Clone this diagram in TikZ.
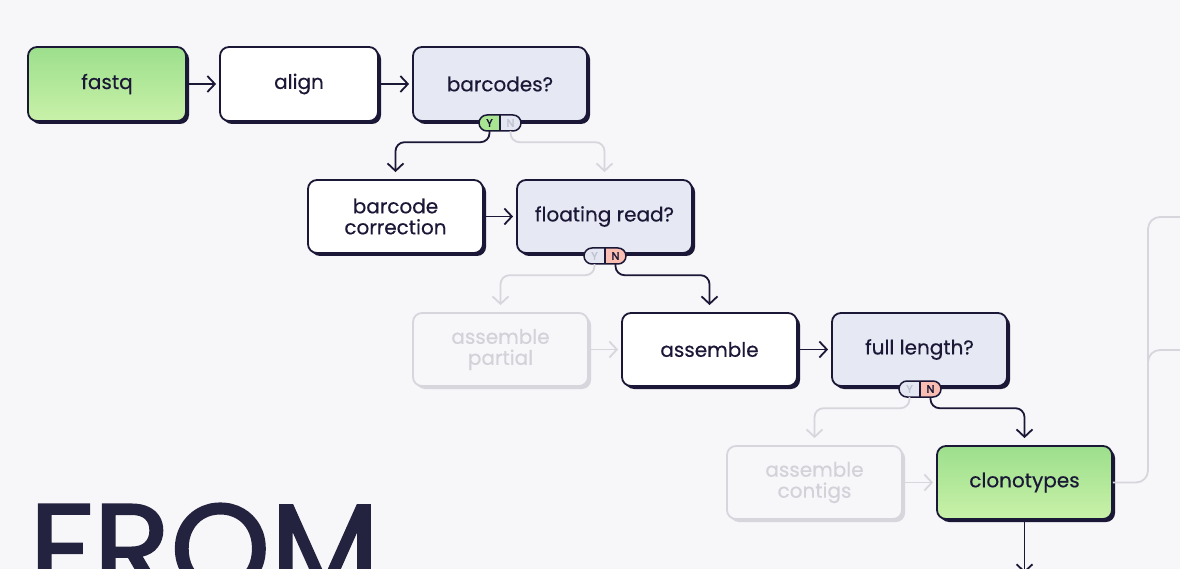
\documentclass[tikz,border=0pt]{standalone}
\usepackage{fontspec}
\setmainfont{Poppins}[FakeBold=0.4]
\newfontfamily\fromfont{Poppins}[FakeBold=1.6]
\newfontfamily\ynfont{Poppins}[FakeBold=2.5]
\usetikzlibrary{arrows.meta,shadows,shapes.misc}
\definecolor{ink}{HTML}{1B1736}
\definecolor{bg}{HTML}{F7F7FA}
\definecolor{query}{HTML}{E6E9F4}
\definecolor{gtop}{HTML}{9CDF8C}
\definecolor{gbot}{HTML}{C9F1A9}
\definecolor{faint}{HTML}{D6D6DC}
\definecolor{fainttext}{HTML}{D2D2D9}
\definecolor{ygreen}{HTML}{A8E492}
\definecolor{npink}{HTML}{F9BDB1}
\definecolor{offgray}{HTML}{E4E7F2}
\definecolor{offtext}{HTML}{BFC3D2}
\definecolor{fromc}{HTML}{24233F}
\tikzset{
  basebox/.style={rectangle, rounded corners=9pt, line width=1.8pt,
    minimum width=175pt, minimum height=73pt, align=center, inner sep=2pt,
    font=\fontsize{20}{21}\selectfont},
  box/.style={basebox, draw=ink, text=ink, fill=white,
    drop shadow={shadow xshift=3pt, shadow yshift=-3pt, fill=ink, opacity=1}},
  fadedbox/.style={basebox, draw=faint, text=fainttext, fill=bg,
    drop shadow={shadow xshift=3pt, shadow yshift=-3pt, fill=faint, opacity=1}},
  greenbox/.style={box, top color=gtop, bottom color=gbot},
  querybox/.style={box, fill=query},
  pill/.style 2 args={rounded rectangle, draw=ink, line width=1.5pt,
    minimum width=42pt, minimum height=16pt, inner sep=0pt,
    path picture={
      \fill[#1] (path picture bounding box.south west) rectangle (path picture bounding box.north);
      \fill[#2] (path picture bounding box.north) rectangle (path picture bounding box.south east);
      \draw[ink, line width=1.5pt] (path picture bounding box.north) -- (path picture bounding box.south);}},
  yn/.style={minimum width=21pt, minimum height=16pt, inner sep=0pt,
    font=\ynfont\fontsize{11}{11}\selectfont},
  conn/.style={draw=ink, line width=1.8pt, rounded corners=9pt,
    -{Straight Barb[length=7.5pt,width=16pt]}},
  faintconn/.style={conn, draw=faint}
}
\begin{document}
\begin{tikzpicture}[x=1pt,y=-1pt]
\useasboundingbox[fill=bg] (0,0) rectangle (1180,569);

% FROM
\node[anchor=base west, inner sep=0pt, text=fromc, font=\fromfont\fontsize{127}{127}\selectfont] (from) at (29,593) {FROM};

% boxes
\node[greenbox, minimum width=158pt, minimum height=74pt] (fastq) at (107,84) {fastq};
\node[box, minimum width=158pt, minimum height=74pt] (align) at (299,84) {align};
\node[querybox, minimum width=174pt, minimum height=74pt] (bq) at (500,84) {barcodes?};
\node[box] (bc) at (395.5,216.5) {barcode\\correction};
\node[querybox] (fr) at (604.5,216.5) {floating read?};
\node[fadedbox] (ap) at (500.5,349.5) {assemble\\partial};
\node[box] (as) at (709.5,349.5) {assemble};
\node[querybox] (fl) at (919.5,349.5) {full length?};
\node[fadedbox] (ac) at (814.5,482.5) {assemble\\contigs};
\node[greenbox] (cl) at (1024.5,482.5) {clonotypes};

% toggles
\node[pill={ygreen}{offgray}] (t1) at (500,123) {};
\node[yn, text=ink] (t1Y) at (489.5,123) {Y};
\node[yn, text=offtext] (t1N) at (510.5,123) {N};
\node[pill={offgray}{npink}] (t2) at (605,256) {};
\node[yn, text=offtext] (t2Y) at (594.5,256) {Y};
\node[yn, text=ink] (t2N) at (615.5,256) {N};
\node[pill={offgray}{npink}] (t3) at (920,389) {};
\node[yn, text=offtext] (t3Y) at (909.5,389) {Y};
\node[yn, text=ink] (t3N) at (930.5,389) {N};

% horizontal connectors
\draw[conn, shorten >=3pt] (fastq) -- (align);
\draw[conn, shorten >=3pt] (align) -- (bq);
\draw[conn, shorten >=3pt] (bc) -- (fr);
\draw[faintconn, shorten >=3pt] (ap) -- (as);
\draw[conn, shorten >=3pt] (as) -- (fl);
\draw[faintconn, shorten >=3pt] (ac) -- (cl);

% branch connectors
\draw[conn, shorten >=7pt] (t1Y.south) -- ++(0,11) -| (bc.north);
\draw[faintconn, shorten >=7pt] (t1N.south) -- ++(0,11) -| (fr.north);
\draw[faintconn, shorten >=7pt] (t2Y.south) -- ++(0,11) -| (ap.north);
\draw[conn, shorten >=7pt] (t2N.south) -- ++(0,11) -| (as.north);
\draw[faintconn, shorten >=7pt] (t3Y.south) -- ++(0,11) -| (ac.north);
\draw[conn, shorten >=7pt] (t3N.south) -- ++(0,11) -| (cl.north);

% bottom arrow
\coordinate (bot) at (1024.5,573);
\draw[conn] (cl.south) -- (bot);

% right side lines
\coordinate (out1) at (1185,217);
\coordinate (out2) at (1185,350);
\coordinate (mid) at (1148,420);
\draw[faint, line width=1.8pt, rounded corners=12pt] (cl.east) -| (1148,300) |- (out1);
\draw[faint, line width=1.8pt, rounded corners=12pt] (mid) |- (out2);
\end{tikzpicture}
\end{document}
